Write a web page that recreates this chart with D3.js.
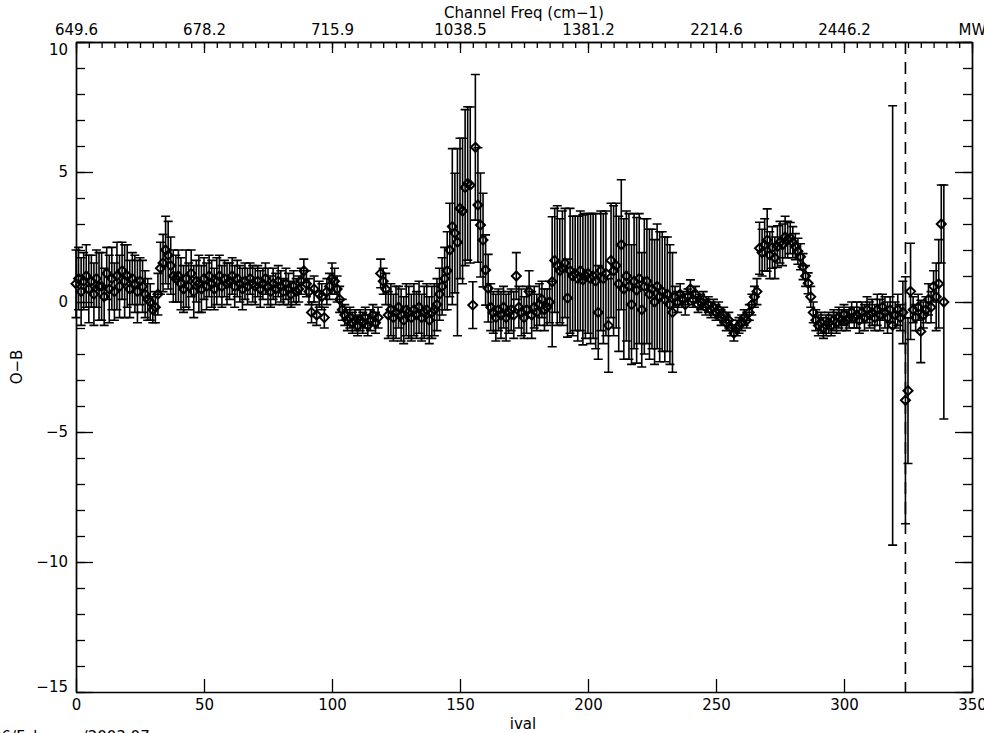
<!DOCTYPE html>
<html>
<head>
<meta charset="utf-8">
<script src="https://cdn.jsdelivr.net/npm/d3@7/dist/d3.min.js"></script>
<style>
  body { margin: 0; background: #fff; }
  svg { display: block; }
  text { font-family: "DejaVu Sans", sans-serif; font-size: 15px; fill: #000; }
</style>
</head>
<body>
<svg id="chart" width="984" height="733"></svg>
<script>
// O-B departure per channel index (ival = position in the array)
const obValues = [
  0.7, 0.9, 0.4, 0.8, 1.0, 0.5, 0.8, 0.3, 0.9, 0.6,
  0.6, 0.2, 1.1, 0.5, 0.9, 0.4, 1.0, 0.6, 1.2, 0.8,
  1.0, 0.5, 0.9, 0.7, 0.4, 0.8, 0.6, 0.3, 0.1, 0.0,
  -0.3, -0.2, 0.3, 1.3, 1.5, 2.0, 1.8, 1.4, 1.0, 0.9,
  1.0, 0.7, 0.5, 0.9, 0.6, 1.1, 0.4, 0.8, 0.7, 0.5,
  0.9, 0.6, 1.0, 0.7, 0.5, 0.8, 1.0, 0.6, 0.9, 0.7,
  0.8, 1.0, 0.6, 0.9, 0.7, 0.5, 0.8, 0.6, 0.9, 0.7,
  0.6, 0.8, 0.5, 0.7, 0.9, 0.6, 0.4, 0.7, 0.5, 0.8,
  0.6, 0.4, 0.7, 0.5, 0.3, 0.6, 0.4, 0.5, 0.8, 1.2,
  0.7, 0.4, -0.4, 0.5, -0.5, 0.3, 0.2, -0.6, 0.4, 0.6,
  0.9, 0.8, 0.5, 0.1, -0.3, -0.5, -0.7, -0.6, -0.8, -0.7,
  -0.9, -0.7, -0.8, -0.6, -0.9, -0.7, -0.5, -0.8, -0.6, 1.1,
  0.8, 0.5, -0.5, -0.3, -0.6, -0.4, -0.2, -0.5, -0.7, -0.3,
  -0.4, -0.6, -0.3, -0.5, -0.2, -0.6, -0.4, -0.3, -0.7, -0.4,
  -0.3, -0.1, 0.3, 0.6, 0.9, 1.2, 2.0, 2.9, 2.65, 2.3,
  3.6, 3.5, 4.4, 4.56, 4.5, -0.12, 5.95, 3.73, 2.96, 2.38,
  1.23, 0.53, -0.2, -0.4, -0.6, -0.3, -0.5, -0.2, -0.6, -0.4,
  -0.3, -0.5, 1.0, -0.2, -0.4, -0.6, -0.3, 0.4, -0.5, -0.2,
  -0.4, -0.1, 0.1, -0.3, -0.2, 0.0, 0.78, 1.6, 1.4, 1.2,
  1.3, 1.5, 0.15, 1.2, 1.0, 1.1, 0.9, 1.2, 0.85, 1.0,
  1.1, 0.9, 1.0, 0.8, -0.4, 1.2, 0.9, 1.1, -0.9, 1.6,
  1.2, 1.4, 0.7, 2.2, 0.5, 1.0, 0.6, -0.1, 0.8, 0.45,
  0.9, -0.3, 0.6, 0.8, 0.3, 0.5, 0.0, 0.6, 0.2, 0.4,
  0.1, 0.3, -0.1, -0.4, 0.2, 0.0, 0.3, 0.1, -0.1, 0.2,
  0.5, 0.1, 0.3, -0.1, 0.0, 0.1, -0.2, -0.1, -0.3, -0.2,
  -0.4, -0.3, -0.6, -0.5, -0.8, -0.7, -1.0, -1.2, -1.0, -0.9,
  -0.8, -0.6, -0.7, -0.4, -0.1, 0.2, 0.4, 2.07, 1.9, 2.2,
  2.38, 1.8, 2.1, 1.7, 2.13, 2.3, 2.2, 2.5, 2.4, 2.46,
  2.3, 2.13, 1.95, 1.74, 1.36, 1.0, 0.72, 0.2, -0.4, -0.7,
  -0.9, -0.8, -1.0, -0.9, -0.8, -0.9, -0.7, -0.8, -0.6, -0.7,
  -0.5, -0.7, -0.6, -0.4, -0.6, -0.5, -0.7, -0.4, -0.6, -0.3,
  -0.5, -0.4, -0.6, -0.3, -0.5, -0.2, -0.4, -0.6, -0.3, -0.9,
  -0.5, -0.3, -0.6, -0.4, -3.78, -3.41, 0.41, -0.3, -0.6, -0.2,
  -1.13, -0.5, -0.3, 0.1, -0.2, 0.6, 0.2, 0.7, 3.0, 0.0
];

// Half-length of each error bar
const obErrors = [
  1.3, 1.2, 1.3, 1.1, 1.2, 1.3, 1.0, 1.2, 1.1, 1.3,
  1.3, 1.1, 1.0, 1.3, 1.2, 1.1, 1.3, 1.2, 1.1, 1.4,
  1.2, 1.1, 1.0, 1.1, 1.2, 0.9, 1.0, 0.9, 0.8, 0.7,
  0.5, 0.6, 0.8, 1.0, 1.1, 1.3, 1.3, 1.1, 1.0, 0.9,
  1.0, 1.0, 0.9, 1.1, 0.9, 0.9, 1.0, 0.8, 1.1, 0.9,
  0.8, 0.9, 0.8, 0.9, 0.8, 0.9, 0.8, 0.8, 0.7, 0.8,
  0.7, 0.7, 0.8, 0.7, 0.7, 0.8, 0.7, 0.7, 0.6, 0.7,
  0.7, 0.6, 0.7, 0.6, 0.6, 0.7, 0.6, 0.6, 0.6, 0.6,
  0.6, 0.5, 0.6, 0.6, 0.5, 0.6, 0.5, 0.5, 0.5, 0.45,
  0.5, 0.5, 0.4, 0.5, 0.4, 0.5, 0.5, 0.4, 0.5, 0.5,
  0.6, 0.5, 0.5, 0.5, 0.4, 0.4, 0.4, 0.4, 0.4, 0.4,
  0.4, 0.4, 0.4, 0.4, 0.4, 0.4, 0.4, 0.4, 0.4, 0.55,
  0.5, 0.6, 0.9, 1.0, 0.9, 1.0, 0.8, 1.0, 0.9, 1.0,
  1.0, 0.9, 1.0, 0.9, 1.0, 0.9, 1.0, 1.0, 0.9, 1.0,
  1.0, 1.0, 1.0, 1.1, 1.2, 1.5, 1.8, 3.0, 2.3, 3.6,
  2.7, 2.8, 3.0, 2.95, 3.0, 0.9, 2.8, 2.2, 2.0, 1.8,
  1.35, 1.3, 0.9, 0.8, 0.9, 0.8, 0.9, 0.8, 0.9, 0.8,
  0.8, 0.9, 0.9, 0.8, 0.9, 0.8, 0.9, 0.8, 0.9, 0.8,
  0.7, 0.8, 0.7, 0.8, 0.7, 0.8, 2.5, 2.0, 2.3, 2.0,
  2.2, 2.1, 1.5, 2.4, 2.3, 2.2, 2.4, 2.3, 2.5, 2.4,
  2.3, 2.5, 2.4, 2.6, 1.8, 2.3, 2.5, 2.4, 1.8, 2.2,
  2.5, 2.4, 2.6, 2.5, 2.7, 2.5, 2.8, 2.3, 2.6, 2.8,
  2.5, 2.2, 2.6, 2.4, 2.5, 2.3, 2.4, 2.4, 2.5, 2.3,
  2.4, 2.2, 2.3, 2.3, 0.4, 0.4, 0.4, 0.3, 0.4, 0.3,
  0.35, 0.3, 0.3, 0.3, 0.3, 0.3, 0.3, 0.3, 0.3, 0.3,
  0.3, 0.3, 0.3, 0.3, 0.3, 0.3, 0.3, 0.3, 0.3, 0.3,
  0.3, 0.3, 0.3, 0.3, 0.4, 0.4, 0.5, 1.0, 0.9, 1.0,
  1.2, 0.9, 0.8, 0.8, 0.8, 0.8, 0.8, 0.8, 0.7, 0.6,
  0.6, 0.5, 0.5, 0.5, 0.5, 0.4, 0.4, 0.4, 0.4, 0.4,
  0.4, 0.4, 0.4, 0.4, 0.4, 0.4, 0.4, 0.4, 0.4, 0.4,
  0.4, 0.4, 0.4, 0.4, 0.4, 0.5, 0.5, 0.4, 0.5, 0.5,
  0.5, 0.5, 0.5, 0.6, 0.6, 0.5, 0.6, 0.6, 0.5, 8.45,
  0.5, 0.6, 0.5, 1.2, 4.75, 2.8, 1.85, 0.5, 0.5, 0.5,
  1.2, 0.5, 0.5, 0.6, 0.6, 0.6, 1.3, 1.7, 1.5, 4.5
];

// Axis tick values and labels
const xMajorTicks = [0, 50, 100, 150, 200, 250, 300, 350];
const freqLabels = ["649.6", "678.2", "715.9", "1038.5", "1381.2", "2214.6", "2446.2", "MW"];
const yMajorTicks = [-15, -10, -5, 0, 5, 10];
const markedChannel = 324;
const dateStamp = "26/February/2003 07";

const plot = { left: 76, right: 972, top: 42, bottom: 692 };

const svg = d3.select("#chart");
const x = d3.scaleLinear().domain([0, 350]).range([plot.left, plot.right]);
const y = d3.scaleLinear().domain([-15, 10]).range([plot.bottom, plot.top]);

const minus = s => String(s).replace("-", "\u2212");

// Bottom axis: major ticks only, pointing inward
svg.append("g").attr("transform", `translate(0,${plot.bottom})`)
  .call(d3.axisBottom(x).tickValues(xMajorTicks).tickSizeInner(-13).tickSizeOuter(0)
    .tickPadding(7).tickFormat(d3.format("d")));

// Top axis: minor ticks every 5, labelled major ticks every 50
svg.append("g").attr("transform", `translate(0,${plot.top})`)
  .call(d3.axisTop(x).tickValues(d3.range(0, 351, 5)).tickSizeInner(-6).tickSizeOuter(0).tickFormat(""));
svg.append("g").attr("transform", `translate(0,${plot.top})`)
  .call(d3.axisTop(x).tickValues(xMajorTicks).tickSizeInner(-11).tickSizeOuter(0)
    .tickPadding(7).tickFormat((d, i) => freqLabels[i]));

// Left axis
svg.append("g").attr("transform", `translate(${plot.left},0)`)
  .call(d3.axisLeft(y).tickValues(d3.range(-15, 11, 1)).tickSizeInner(-9).tickSizeOuter(0).tickFormat(""));
const gLeft = svg.append("g").attr("transform", `translate(${plot.left},0)`)
  .call(d3.axisLeft(y).tickValues(yMajorTicks).tickSizeInner(-17).tickSizeOuter(0)
    .tickPadding(8).tickFormat(minus));

// Right axis
svg.append("g").attr("transform", `translate(${plot.right},0)`)
  .call(d3.axisRight(y).tickValues(d3.range(-15, 11, 1)).tickSizeInner(-9).tickSizeOuter(0).tickFormat(""));
svg.append("g").attr("transform", `translate(${plot.right},0)`)
  .call(d3.axisRight(y).tickValues(yMajorTicks).tickSizeInner(-17).tickSizeOuter(0).tickFormat(""));

svg.selectAll(".domain").attr("stroke", "#000").attr("stroke-width", 1.4);
svg.selectAll(".tick line").attr("stroke", "#000").attr("stroke-width", 1.3);
svg.selectAll(".tick text").attr("fill", "#000")
  .style("font-family", "'DejaVu Sans', sans-serif").style("font-size", "15px");

// End labels of the y axis sit inside the frame
gLeft.selectAll(".tick text").attr("dy", d => d === 10 ? "0.85em" : d === -15 ? "-0.05em" : "0.32em");

// Axis titles
svg.append("text").attr("x", (plot.left + plot.right) / 2).attr("y", 18)
  .attr("text-anchor", "middle").text("Channel Freq (cm\u22121)");
svg.append("text").attr("x", 523).attr("y", 729)
  .attr("text-anchor", "middle").text("ival");
svg.append("text").attr("transform", `translate(22,${(plot.top + plot.bottom) / 2}) rotate(-90)`)
  .attr("text-anchor", "middle").text("O\u2212B");
svg.append("text").attr("x", -8).attr("y", 742).text(dateStamp);

// Vertical dashed marker
svg.append("line")
  .attr("x1", x(markedChannel)).attr("x2", x(markedChannel))
  .attr("y1", y(10)).attr("y2", y(-15))
  .attr("stroke", "#000").attr("stroke-width", 1.6).attr("stroke-dasharray", "12,8");

const data = obValues.map((v, i) => ({ i, v, e: obErrors[i] }));
const cap = 4.5;

// Error bars
svg.append("g").attr("stroke", "#000").attr("stroke-width", 1.6).attr("fill", "none")
  .selectAll("path").data(data).join("path")
  .attr("d", d => {
    const cx = x(d.i), y0 = y(d.v - d.e), y1 = y(d.v + d.e);
    return `M${cx},${y0}V${y1}M${cx - cap},${y1}H${cx + cap}M${cx - cap},${y0}H${cx + cap}`;
  });

// Open diamond markers
const r = 4.5;
svg.append("g").attr("stroke", "#000").attr("stroke-width", 2).attr("fill", "none")
  .selectAll("path").data(data).join("path")
  .attr("transform", d => `translate(${x(d.i)},${y(d.v)})`)
  .attr("d", `M0,${-r}L${r},0L0,${r}L${-r},0Z`);
</script>
</body>
</html>
